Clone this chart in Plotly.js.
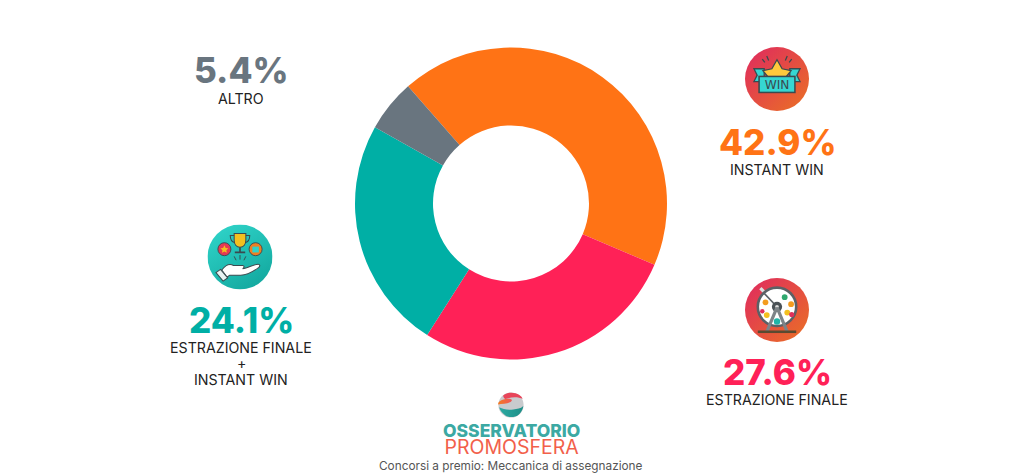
<!DOCTYPE html>
<html><head><meta charset="utf-8">
<script src="https://cdn.plot.ly/plotly-3.0.1.min.js"></script>
<style>html,body{margin:0;padding:0;background:#fff}#c{width:1024px;height:474px}</style>
</head><body><div id="c"></div>
<script>
const categories = ["INSTANT WIN","ESTRAZIONE FINALE","ESTRAZIONE FINALE + INSTANT WIN","ALTRO"];
const values = [42.9,27.6,24.1,5.4];
const sliceColors = ["#FF7315","#FF2157","#00AFA5","#69757F"];
const percentLabels = ["42.9%","27.6%","24.1%","5.4%"];
const captionLines = [["INSTANT WIN"],["ESTRAZIONE FINALE"],["ESTRAZIONE FINALE","+","INSTANT WIN"],["ALTRO"]];
const chartCaption = "Concorsi a premio: Meccanica di assegnazione";
const W=1024,H=474, FONT="Inter, 'Noto Sans', sans-serif";
const px=(x,y)=>({x:x/W,y:1-y/H,xref:'paper',yref:'paper'});
function svg(s,w=100,h=100){return 'data:image/svg+xml;utf8,'+encodeURIComponent(`<svg xmlns="http://www.w3.org/2000/svg" xmlns:xlink="http://www.w3.org/1999/xlink" viewBox="0 0 ${w} ${h}" width="${w*4}" height="${h*4}">${s}</svg>`);}
const warm=`<defs><linearGradient id="g" x1="0.1" y1="0.1" x2="0.9" y2="0.9"><stop offset="0" stop-color="#E0305A"/><stop offset="1" stop-color="#E96A2A"/></linearGradient></defs><circle cx="50" cy="50" r="50" fill="url(#g)"/>`;
const s='#3a4a4f';
const winIcon=svg(warm+`
<path d="M14 34h16v20H14l5-10z M86 34H70v20h16l-5-10z" fill="#36D6D2" stroke="${s}" stroke-width="2"/>
<path d="M50 20l8 14 14 3-9 11 1 12-14-5-14 5 1-12-9-11 14-3z" fill="#FFC93C" stroke="${s}" stroke-width="2"/>
<rect x="22" y="46" width="56" height="25" fill="#36D6D2" stroke="${s}" stroke-width="2.4"/>
<text x="50" y="66" font-family="DejaVu Sans" font-size="19" text-anchor="middle" fill="${s}">WIN</text>
<path d="M34 14l3 7M27 19l4 5M66 14l-3 7M73 19l-4 5" stroke="${s}" stroke-width="2"/>`);
const wheelIcon=svg(warm+`
<path d="M24 16l10 10" stroke="#ddd" stroke-width="5"/>
<circle cx="50" cy="45" r="30" fill="#fff" stroke="#5b6166" stroke-width="4"/>
<path d="M50 45L30 24" stroke="#5b6166" stroke-width="2.5"/>
<circle cx="62" cy="30" r="4.5" fill="#2fa86e"/><circle cx="72" cy="41" r="4.5" fill="#F39C1F"/>
<circle cx="32" cy="38" r="4.5" fill="#F39C1F"/><circle cx="34" cy="58" r="4.5" fill="#F3C01F"/><circle cx="27" cy="52" r="3.5" fill="#E0305A"/>
<circle cx="66" cy="54" r="4.5" fill="#F3C01F"/><circle cx="73" cy="57" r="4" fill="#E0305A"/><circle cx="50" cy="68" r="5" fill="#1fb5a8"/>
<circle cx="50" cy="45" r="8" fill="#4a5156"/><circle cx="50" cy="45" r="3" fill="#ddd"/>
<path d="M50 46L34 84M50 46L66 84" stroke="#7d8488" stroke-width="5"/>
<rect x="20" y="82" width="60" height="4" fill="#5a4a30"/>`);
const handIcon=svg(`<defs><linearGradient id="t" x1="0.2" y1="0" x2="0.8" y2="1"><stop offset="0" stop-color="#2FD3C8"/><stop offset="1" stop-color="#12A79E"/></linearGradient></defs><circle cx="50" cy="50" r="50" fill="url(#t)"/>
<path d="M41 14h18v10c0 7-4 11-9 11s-9-4-9-11z" fill="#F3C01F" stroke="${s}" stroke-width="1.6"/>
<path d="M41 17h-6c0 7 3 10 7 11M59 17h6c0 7-3 10-7 11" fill="none" stroke="${s}" stroke-width="1.6"/>
<path d="M50 35v7M42 43h16" stroke="${s}" stroke-width="2.6"/>
<circle cx="26" cy="38" r="10" fill="#E53A54" stroke="${s}" stroke-width="1.4"/><path d="M26 32l2 4 4 .6-3 3 .7 4-3.700-2-3.700 2 .7-4-3-3 4-.6z" fill="#F3C01F"/>
<circle cx="74" cy="38" r="10" fill="#F07F22" stroke="${s}" stroke-width="1.4"/><rect x="69" y="34" width="10" height="9" fill="#2FD3C8"/>
<path d="M50 47v7M41 49l3 6M59 49l-3 6" stroke="${s}" stroke-width="1.5"/>
<path d="M22 70c6-8 12-10 18-7h14c3 0 3 4 0 5 8-1 18-7 24-7 3 0 3 3 1 5-8 6-18 12-28 12H34l-4 3z" fill="#fff" stroke="${s}" stroke-width="1.6"/>
<path d="M13 74l7-5 11 13-7 5z" fill="#e8f4f3" stroke="${s}" stroke-width="1.6"/>`);
const globe=svg(`<defs><linearGradient id="a" x1="0" x2="1"><stop offset="0" stop-color="#F47B20"/><stop offset="1" stop-color="#F0565A"/></linearGradient><linearGradient id="b" x1="0" x2="1"><stop offset="0" stop-color="#2CA9A1"/><stop offset="1" stop-color="#1E8F88"/></linearGradient></defs>
<circle cx="50" cy="50" r="45" fill="#c9cbce"/>
<path d="M22 16C34 4 62 2 80 14c6 4 10 9 12 14-16-8-40-8-58 0-6 3-12-6-12-12z" fill="#E8455A"/>
<path d="M4 48c0-10 12-18 34-20 10-1 18 2 14 8-8 10-34 10-48 12z" fill="url(#a)"/>
<path d="M8 58c14 8 30 10 50 8 14-2 26-2 36-12-2 14-8 24-18 32-14 10-38 10-50-2C16 76 10 68 8 58z" fill="url(#b)"/>`);
const pos=[[777,142],[777,372],[241,320],[241,70]];
const capPos=[[777,169],[777,399],[241,347],[241,98]];
const annotations=[];
percentLabels.forEach((t,i)=>annotations.push({...px(pos[i][0],pos[i][1]),text:t,showarrow:false,xanchor:'center',yanchor:'middle',font:{family:FONT,size:35,weight:800,color:sliceColors[i]}}));
captionLines.forEach((lines,i)=>lines.forEach((t,j)=>annotations.push({...px(capPos[i][0],capPos[i][1]+j*16),text:t,showarrow:false,xanchor:'center',yanchor:'middle',align:'center',font:{family:FONT,size:14.2,weight:400,color:'#222'}})));
annotations.push({...px(511,439),text:'<span style="font-size:17.5px;font-weight:800;color:#3CA9A3">OSSERVATORIO</span><br><span style="font-size:19.5px;color:#F2604A">PROMOSFERA</span>',showarrow:false,xanchor:'center',yanchor:'middle',align:'center',font:{family:FONT,size:13,color:'#3CA9A3'}});
annotations.push({...px(511,466),text:chartCaption,showarrow:false,xanchor:'center',yanchor:'middle',font:{family:FONT,size:11.8,color:'#555'}});
const img=(src,cx,cy,d)=>({source:src,xref:'paper',yref:'paper',x:cx/W,y:1-cy/H,sizex:d/W,sizey:d/H,xanchor:'center',yanchor:'middle',sizing:'contain',layer:'above'});
Plotly.newPlot('c',[{type:'pie',labels:categories,values:values,sort:false,direction:'clockwise',rotation:318.7,hole:0.5,
 marker:{colors:sliceColors,line:{width:0}},textinfo:'none',hoverinfo:'label+percent',
 domain:{x:[355/W,667/W],y:[1-359.5/H,1-47.5/H]}}],
 {width:W,height:H,margin:{l:0,r:0,t:0,b:0},paper_bgcolor:'#fff',showlegend:false,annotations,
  images:[img(winIcon,777,79,64),img(wheelIcon,777,310,64),img(handIcon,240,257,65),img(globe,511,405,28)]},
 {displayModeBar:false,staticPlot:true});
</script></body></html>
